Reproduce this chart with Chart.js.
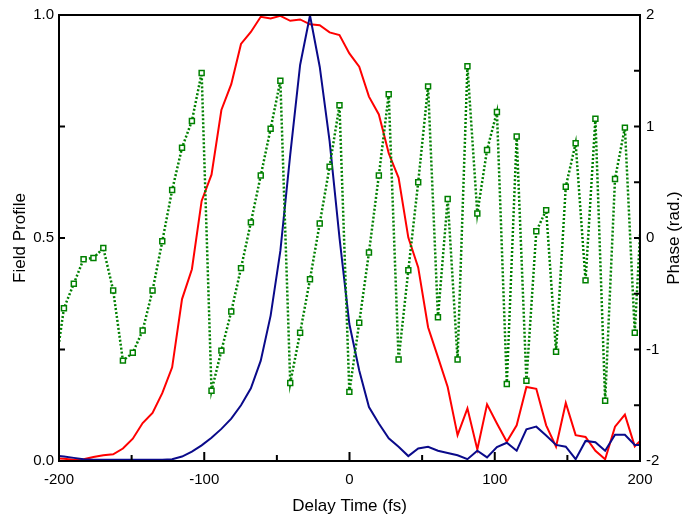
<!DOCTYPE html>
<html>
<head>
<meta charset="utf-8">
<script src="https://cdn.jsdelivr.net/npm/chart.js@4.4.0/dist/chart.umd.min.js"></script>
<style>
  body { margin: 0; background: #fff; }
  #wrap { width: 683px; height: 518px; }
</style>
</head>
<body>
<div id="wrap"><canvas id="grafico" width="683" height="518"></canvas></div>
<script>
// delay time samples (fs)
var delayTime = [-203.4, -196.6, -189.8, -183.1, -176.3, -169.5, -162.7, -156.0, -149.2, -142.4,
    -135.6, -128.9, -122.1, -115.3, -108.5, -101.8, -95.0, -88.2, -81.4, -74.7,
    -67.9, -61.1, -54.3, -47.6, -40.8, -34.0, -27.2, -20.5, -13.7, -6.9,
    -0.1, 6.7, 13.4, 20.2, 27.0, 33.8, 40.5, 47.3, 54.1, 60.9,
    67.6, 74.4, 81.2, 88.0, 94.7, 101.5, 108.3, 115.1, 121.8, 128.6,
    135.4, 142.2, 148.9, 155.7, 162.5, 169.3, 176.0, 182.8, 189.6, 196.4, 203.2];

// field profile, red curve
var perfilVermelho = [0.006, 0.005, 0.003, 0.004, 0.009, 0.013, 0.015, 0.028, 0.05, 0.085,
    0.108, 0.152, 0.21, 0.363, 0.43, 0.583, 0.642, 0.787, 0.845, 0.935,
    0.962, 0.996, 0.992, 0.998, 0.987, 0.99, 0.979, 0.977, 0.961, 0.955,
    0.914, 0.884, 0.817, 0.777, 0.69, 0.635, 0.501, 0.434, 0.30, 0.233,
    0.166, 0.058, 0.118, 0.026, 0.127, 0.084, 0.043, 0.080, 0.166, 0.162,
    0.080, 0.032, 0.130, 0.058, 0.054, 0.023, 0.004, 0.077, 0.104, 0.033, 0.055];

// field profile, blue curve
var perfilAzul = [0.012, 0.01, 0.007, 0.004, 0.003, 0.003, 0.003, 0.003, 0.003, 0.003,
    0.003, 0.003, 0.004, 0.01, 0.021, 0.035, 0.052, 0.072, 0.095, 0.125,
    0.163, 0.225, 0.326, 0.471, 0.687, 0.888, 0.999, 0.884, 0.717, 0.501,
    0.307, 0.203, 0.121, 0.084, 0.051, 0.032, 0.011, 0.028, 0.032, 0.023,
    0.018, 0.013, 0.004, 0.023, 0.008, 0.031, 0.041, 0.023, 0.071, 0.077,
    0.057, 0.036, 0.032, 0.004, 0.045, 0.042, 0.023, 0.059, 0.059, 0.036, 0.036];

// phase (rad.), green curve
var fase = [-1.25, -0.63, -0.41, -0.19, -0.18, -0.09, -0.47, -1.10, -1.03, -0.83,
    -0.47, -0.03, 0.43, 0.81, 1.05, 1.48, -1.37, -1.01, -0.66, -0.27,
    0.14, 0.56, 0.98, 1.41, -1.30, -0.85, -0.37, 0.13, 0.64, 1.19,
    -1.38, -0.76, -0.13, 0.56, 1.29, -1.09, -0.29, 0.50, 1.36, -0.71,
    0.35, -1.09, 1.54, 0.22, 0.79, 1.13, -1.31, 0.91, -1.28, 0.06,
    0.25, -1.02, 0.46, 0.85, -0.38, 1.07, -1.46, 0.53, 0.99, -0.85, 0.8];

var rotulosX = [-200, -100, 0, 100, 200];
var rotulosEsquerda = [0, 0.5, 1];
var rotulosDireita = [-2, -1, 0, 1, 2];

var fonte = 'Liberation Sans, Arial, sans-serif';

function pares(ys) {
    return delayTime.map(function(x, i) { return { x: x, y: ys[i] }; });
}

function temRotulo(lista, v) {
    return lista.some(function(r) { return Math.abs(r - v) < 1e-9; });
}

// inward ticks, closed frame and the right axis title (reads bottom to top)
var molduraETicks = {
    id: 'molduraETicks',
    afterDatasetsDraw: function(chart) {
        var ctx = chart.ctx;
        var a = chart.chartArea;
        var s = chart.scales;
        ctx.save();
        ctx.strokeStyle = '#000';
        ctx.lineWidth = 2;
        ctx.beginPath();
        s.x.ticks.forEach(function(t) {
            if (t.value <= -200 || t.value >= 200) return;
            var px = s.x.getPixelForValue(t.value);
            var len = temRotulo(rotulosX, t.value) ? 9 : 6;
            ctx.moveTo(px, a.bottom);
            ctx.lineTo(px, a.bottom - len);
        });
        s.y.ticks.forEach(function(t) {
            if (t.value <= 0 || t.value >= 1) return;
            var py = s.y.getPixelForValue(t.value);
            ctx.moveTo(a.left, py);
            ctx.lineTo(a.left + 6, py);
        });
        s.y2.ticks.forEach(function(t) {
            if (t.value <= -2 || t.value >= 2) return;
            var py = s.y2.getPixelForValue(t.value);
            ctx.moveTo(a.right, py);
            ctx.lineTo(a.right - 6, py);
        });
        ctx.stroke();
        ctx.strokeRect(a.left, a.top, a.right - a.left, a.bottom - a.top);

        ctx.translate(674, (a.top + a.bottom) / 2);
        ctx.rotate(-Math.PI / 2);
        ctx.fillStyle = '#000';
        ctx.font = '17px ' + fonte;
        ctx.textAlign = 'center';
        ctx.textBaseline = 'middle';
        ctx.fillText('Phase (rad.)', 0, 0);
        ctx.restore();
    }
};

var contexto = document.getElementById('grafico').getContext('2d');
new Chart(contexto, {
    type: 'line',
    data: {
        datasets: [{
            data: pares(fase),
            yAxisID: 'y2',
            borderColor: '#008000',
            borderWidth: 2.5,
            borderDash: [2, 2],
            pointStyle: 'rect',
            pointRadius: 3.5,
            pointBorderWidth: 1.5,
            pointBorderColor: '#008000',
            pointBackgroundColor: '#fff',
            tension: 0
        }, {
            data: pares(perfilAzul),
            yAxisID: 'y',
            borderColor: '#0a0a8a',
            borderWidth: 2,
            pointRadius: 0,
            tension: 0
        }, {
            data: pares(perfilVermelho),
            yAxisID: 'y',
            borderColor: '#ff0000',
            borderWidth: 2,
            pointRadius: 0,
            tension: 0
        }]
    },
    options: {
        responsive: false,
        animation: false,
        devicePixelRatio: 1,
        layout: { padding: { top: 13, left: 0, right: 0, bottom: 0 } },
        plugins: {
            legend: { display: false },
            tooltip: { enabled: false }
        },
        scales: {
            x: {
                type: 'linear',
                min: -200,
                max: 200,
                grid: { display: false, drawTicks: false },
                border: { display: false },
                afterFit: function(s) { s.height = 57; },
                ticks: {
                    stepSize: 50,
                    autoSkip: false,
                    maxRotation: 0,
                    padding: 10,
                    color: '#000',
                    font: { family: fonte, size: 15 },
                    callback: function(v) { return temRotulo(rotulosX, v) ? String(v) : ''; }
                },
                title: {
                    display: true,
                    text: 'Delay Time (fs)',
                    color: '#000',
                    font: { family: fonte, size: 17 },
                    padding: { top: 0, bottom: 1 }
                }
            },
            y: {
                position: 'left',
                min: 0,
                max: 1,
                grid: { display: false, drawTicks: false },
                border: { display: false },
                afterFit: function(s) { s.width = 59; },
                ticks: {
                    stepSize: 0.25,
                    autoSkip: false,
                    padding: 5,
                    color: '#000',
                    font: { family: fonte, size: 15 },
                    callback: function(v) { return temRotulo(rotulosEsquerda, v) ? v.toFixed(1) : ''; }
                },
                title: {
                    display: true,
                    text: 'Field Profile',
                    color: '#000',
                    font: { family: fonte, size: 17 },
                    padding: { top: 10, bottom: 0 }
                }
            },
            y2: {
                position: 'right',
                min: -2,
                max: 2,
                grid: { display: false, drawTicks: false },
                border: { display: false },
                afterFit: function(s) { s.width = 43; },
                ticks: {
                    stepSize: 0.5,
                    autoSkip: false,
                    padding: 6,
                    color: '#000',
                    font: { family: fonte, size: 15 },
                    callback: function(v) { return temRotulo(rotulosDireita, v) ? String(v) : ''; }
                },
                title: { display: false }
            }
        }
    },
    plugins: [molduraETicks]
});
</script>
</body>
</html>
